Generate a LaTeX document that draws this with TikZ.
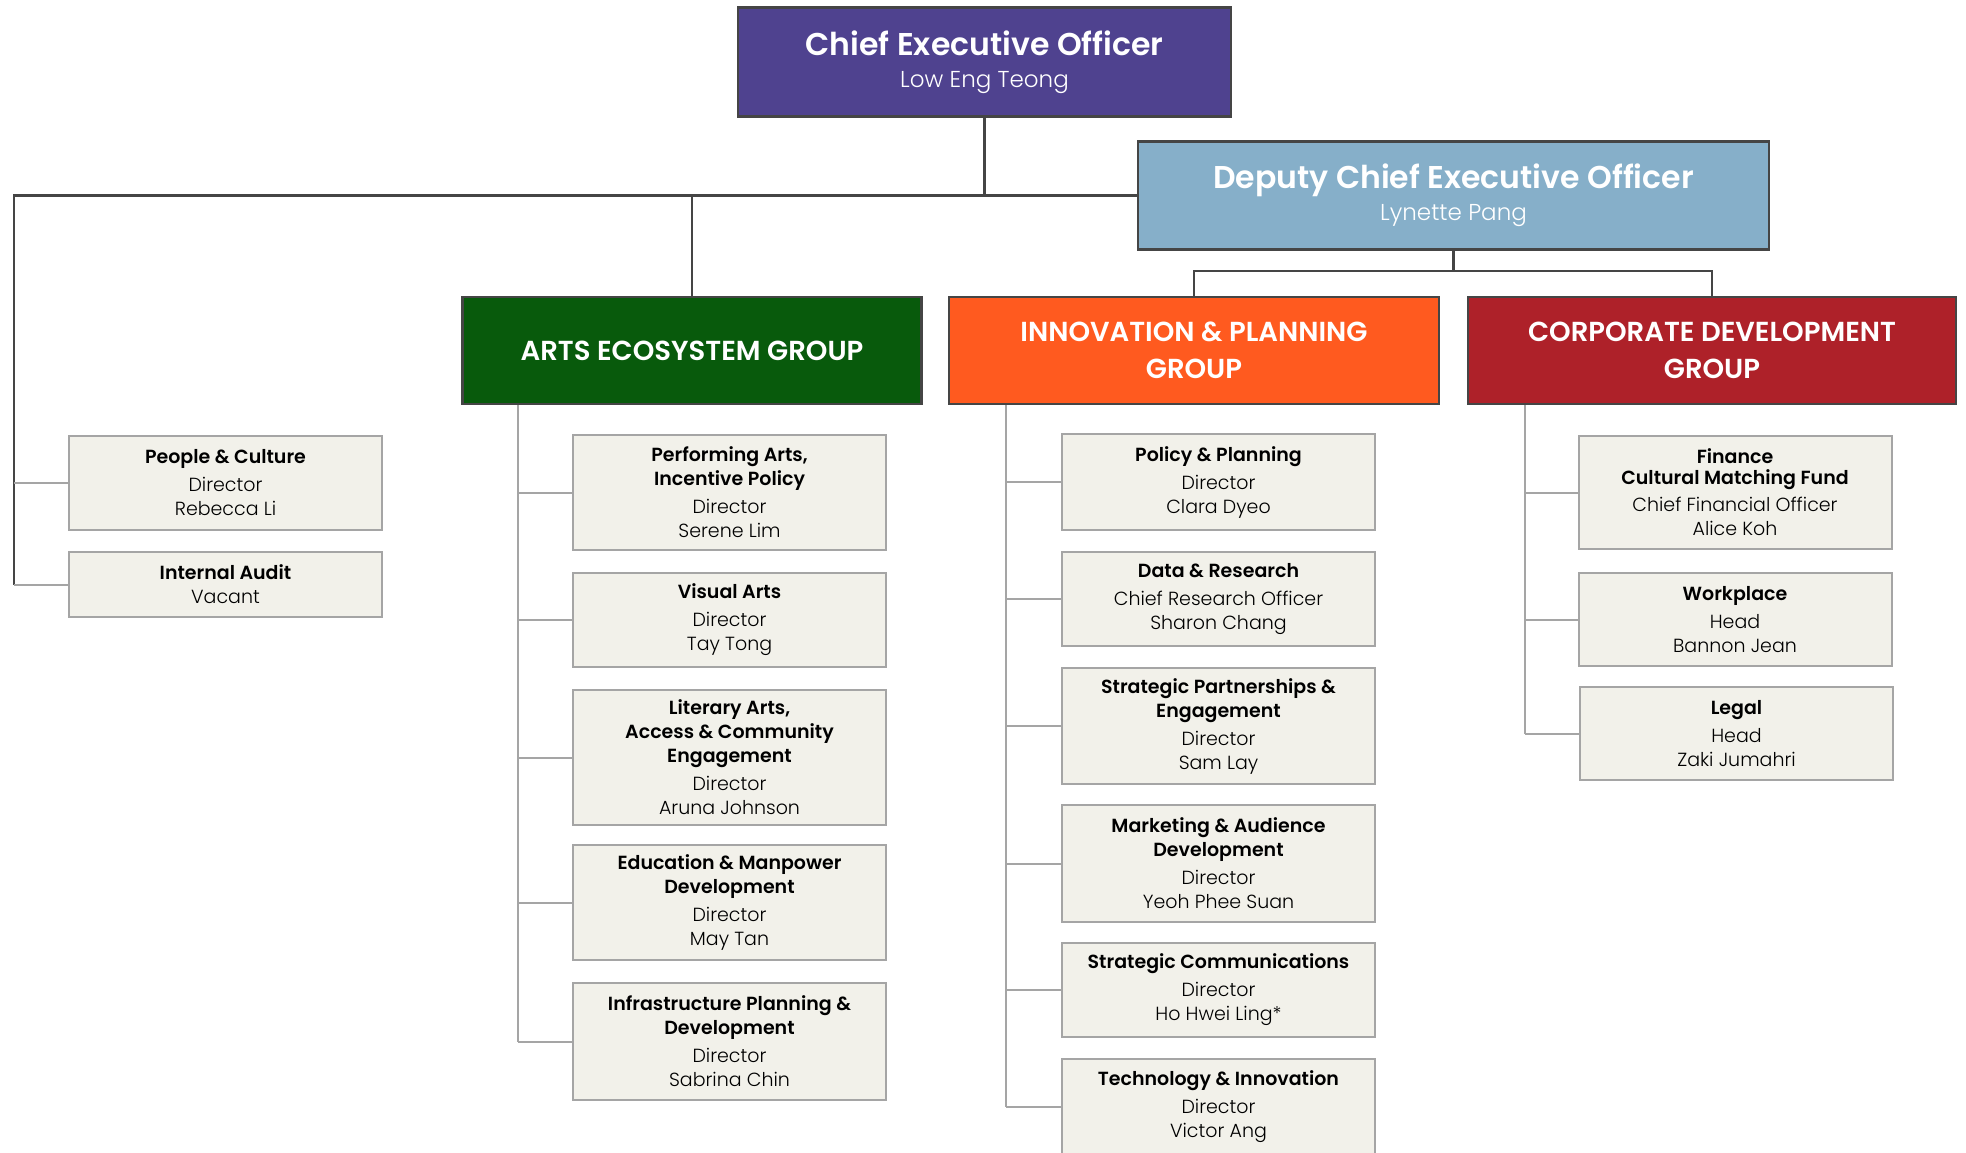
\documentclass[tikz,border=0pt]{standalone}
\usepackage{fontspec}
\setmainfont{Poppins}[UprightFont=* Light, BoldFont=* SemiBold]
\newfontfamily\headfont{Poppins}[BoldFont=* SemiBold]

\definecolor{ceofill}{HTML}{4F428F}
\definecolor{depfill}{HTML}{86AFC9}
\definecolor{artsfill}{HTML}{085A0C}
\definecolor{innofill}{HTML}{FF5A1F}
\definecolor{corpfill}{HTML}{AE2129}
\definecolor{unitfill}{HTML}{F2F1EA}
\definecolor{unitline}{HTML}{A5A5A5}
\definecolor{darkline}{HTML}{454545}

\tikzset{
  head/.style={draw=darkline, line width=2.5pt, text=white, align=center, inner sep=0pt,
    font=\fontsize{23}{32}\selectfont},
  grp/.style={head, minimum height=107pt, font=\headfont\fontsize{27.5}{37}\selectfont\bfseries},
  unit/.style={draw=unitline, fill=unitfill, line width=2pt, align=center, inner sep=0pt,
    minimum width=313pt, font=\fontsize{19}{24}\selectfont},
  trunk/.style={draw=darkline, line width=2.5pt},
  twig/.style={draw=unitline, line width=2pt}
}

\begin{document}
\begin{tikzpicture}[x=1pt,y=-1pt]
   \fill[white] (0,0) rectangle (1966,1152);
   \useasboundingbox (0,0) rectangle (1966,1152);

   % top
   \node[head, fill=ceofill, minimum width=493pt, minimum height=109pt] (ceo) at (984.5,62)
     {{\headfont\fontsize{31.5}{34}\selectfont\bfseries Chief Executive Officer}\\
      Low Eng Teong};
   \node[head, fill=depfill, minimum width=631pt, minimum height=108pt] (dep) at (1453.5,195.6)
     {{\headfont\fontsize{31.5}{34}\selectfont\bfseries Deputy Chief Executive Officer}\\
      Lynette Pang};

   % groups
   \node[grp, fill=artsfill, minimum width=459pt] (arts) at (692,350.4) {ARTS ECOSYSTEM GROUP};
   \node[grp, fill=innofill, minimum width=490pt] (inno) at (1194,350.4) {INNOVATION \& PLANNING\\GROUP};
   \node[grp, fill=corpfill, minimum width=488pt] (corp) at (1712,350.4) {CORPORATE DEVELOPMENT\\GROUP};

   % units under the CEO
   \node[unit, minimum height=94pt] (people) at (225.5,483) {\textbf{People \& Culture}\\[4pt] Director\\ Rebecca Li};
   \node[unit, minimum height=65pt] (audit) at (225.5,584.5) {\textbf{Internal Audit}\\ Vacant};

   % arts ecosystem
   \node[unit, minimum height=115pt] (perf) at (729.5,492.5) {\textbf{Performing Arts,}\\ \textbf{Incentive Policy}\\[4pt] Director\\ Serene Lim};
   \node[unit, minimum height=94pt] (visual) at (729.5,620) {\textbf{Visual Arts}\\[4pt] Director\\ Tay Tong};
   \node[unit, minimum height=135pt] (lit) at (729.5,757.5) {\textbf{Literary Arts,}\\ \textbf{Access \& Community}\\ \textbf{Engagement}\\[4pt] Director\\ Aruna Johnson};
   \node[unit, minimum height=115pt] (edu) at (729.5,902.5) {\textbf{Education \& Manpower}\\ \textbf{Development}\\[4pt] Director\\ May Tan};
   \node[unit, minimum height=117pt] (infra) at (729.5,1041.5) {\textbf{Infrastructure Planning \&}\\ \textbf{Development}\\[4pt] Director\\ Sabrina Chin};

   % innovation & planning
   \node[unit, minimum height=96pt] (policy) at (1218.5,482) {\textbf{Policy \& Planning}\\[4pt] Director\\ Clara Dyeo};
   \node[unit, minimum height=94pt] (data) at (1218.5,599) {\textbf{Data \& Research}\\[4pt] Chief Research Officer\\ Sharon Chang};
   \node[unit, minimum height=116pt] (partner) at (1218.5,726) {\textbf{Strategic Partnerships \&}\\ \textbf{Engagement}\\[4pt] Director\\ Sam Lay};
   \node[unit, minimum height=117pt] (market) at (1218.5,863.5) {\textbf{Marketing \& Audience}\\ \textbf{Development}\\[4pt] Director\\ Yeoh Phee Suan};
   \node[unit, minimum height=94pt] (comms) at (1218.5,990) {\textbf{Strategic Communications}\\[4pt] Director\\ Ho Hwei Ling*};
   \node[unit, minimum height=96pt] (tech) at (1218.5,1107) {\textbf{Technology \& Innovation}\\[4pt] Director\\ Victor Ang};

   % corporate development
   \node[unit, minimum height=113pt] (finance) at (1735,492.5) {\textbf{Finance}\\[-3pt] \textbf{Cultural Matching Fund}\\[3pt] Chief Financial Officer\\ Alice Koh};
   \node[unit, minimum height=93pt] (work) at (1735,619.5) {\textbf{Workplace}\\[4pt] Head\\ Bannon Jean};
   \node[unit, minimum height=93pt] (legal) at (1736.5,733.5) {\textbf{Legal}\\[4pt] Head\\ Zaki Jumahri};

   % bus points
   \coordinate (lb) at (13.8,195.6);
   \coordinate (dj) at (1453.5,271);
   \coordinate (ab) at (518,0);
   \coordinate (ib) at (1005.5,0);
   \coordinate (cb) at (1525,0);

   \draw[trunk] (ceo.south) -- (ceo.south |- dep.west);
   \draw[trunk] (dep.west) -- (lb) -- (lb |- audit.west);
   \draw[trunk] (arts.north) -- (arts.north |- dep.west);
   \draw[trunk] (dep.south) -- (dj);
   \draw[trunk] (inno.north) |- (dj) -| (corp.north);

   \draw[twig] (lb |- people.west) -- (people.west);
   \draw[twig] (lb |- audit.west) -- (audit.west);
   \draw[twig] (ab |- arts.south) -- (ab |- infra.west);
   \draw[twig] (ib |- inno.south) -- (ib |- tech.west);
   \draw[twig] (cb |- corp.south) -- (cb |- legal.west);
   \foreach \n in {perf,visual,lit,edu,infra}
     \draw[twig] (ab |- \n.west) -- (\n.west);
   \foreach \n in {policy,data,partner,market,comms,tech}
     \draw[twig] (ib |- \n.west) -- (\n.west);
   \foreach \n in {finance,work,legal}
     \draw[twig] (cb |- \n.west) -- (\n.west);
 \end{tikzpicture}
\end{document}
